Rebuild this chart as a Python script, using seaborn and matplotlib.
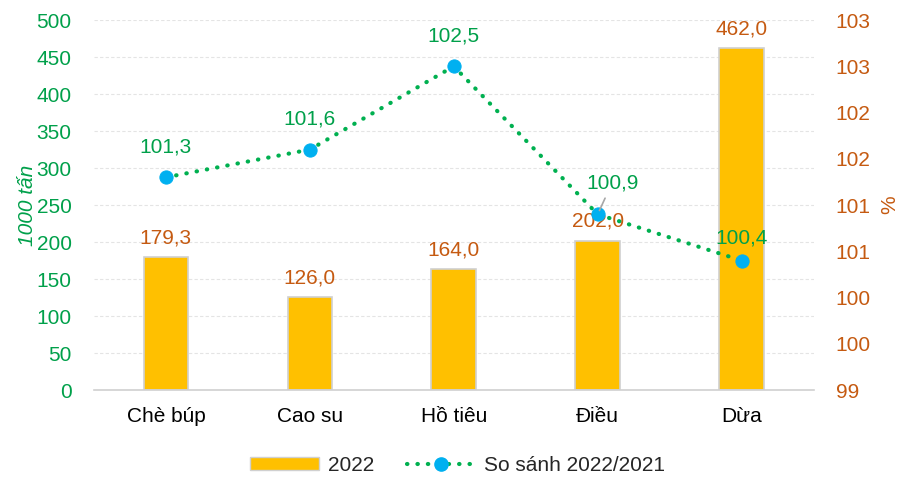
import matplotlib
matplotlib.use("Agg")
import matplotlib.pyplot as plt
import matplotlib.ticker as mticker
from matplotlib.patches import Patch
from matplotlib.lines import Line2D
import seaborn as sns
import pandas as pd

# data
categories = ["Chè búp", "Cao su", "Hồ tiêu", "Điều", "Dừa"]
output_2022 = [179.3, 126.0, 164.0, 202.0, 462.0]
ratio_2022_2021 = [101.3, 101.6, 102.5, 100.9, 100.4]

GREEN_TXT = "#00A04A"
ORANGE_TXT = "#C55A11"
BAR_COLOR = "#FFC000"
LINE_COLOR = "#00B050"
DOT_COLOR = "#00B0F0"
FS = 15

sns.set_style("white")
plt.rcParams["font.family"] = ["Liberation Sans", "DejaVu Sans"]

df = pd.DataFrame({"cat": categories, "val": output_2022, "pct": ratio_2022_2021})

fig = plt.figure(figsize=(9.03, 4.78), dpi=100)
ax = fig.add_axes([0.104, 0.184, 0.797, 0.774])

sns.barplot(data=df, x="cat", y="val", ax=ax, color=BAR_COLOR, width=0.31,
            edgecolor="#D0D0D0", linewidth=1.2, saturation=1, zorder=2)
ax.set_ylim(0, 500)
ax.set_xlim(-0.5, len(categories) - 0.5)
ax.yaxis.set_major_locator(mticker.MultipleLocator(50))
ax.grid(axis="y", color="#E4E4E4", linestyle=(0, (3, 2)), linewidth=0.8, zorder=0)
ax.set_xlabel("")
ax.set_ylabel("1000 tấn", color=GREEN_TXT, fontsize=FS, style="italic", labelpad=0)
ax.tick_params(axis="y", colors=GREEN_TXT, labelsize=FS, length=0, pad=16)
ax.tick_params(axis="x", labelsize=FS, length=0, pad=12, colors="#000000")
for s in ["top", "right", "left"]:
    ax.spines[s].set_visible(False)
ax.spines["bottom"].set_color("#D0D0D0")
ax.spines["bottom"].set_linewidth(1.2)

for i, v in enumerate(output_2022):
    ax.text(i, v + 13, f"{v:.1f}".replace(".", ","), ha="center", va="bottom",
            color=ORANGE_TXT, fontsize=FS, zorder=3)

ax2 = ax.twinx()
sns.lineplot(x=list(range(len(categories))), y=ratio_2022_2021, ax=ax2,
             color=LINE_COLOR, linestyle=(0, (0.1, 2.4)), linewidth=3.0,
             dash_capstyle="round", marker="o", markersize=9.5,
             markerfacecolor=DOT_COLOR, markeredgecolor=DOT_COLOR, zorder=4,
             legend=False)
ax2.set_ylim(99, 103)
ax2.yaxis.set_major_locator(mticker.MultipleLocator(0.5))
ax2.yaxis.set_major_formatter(mticker.FuncFormatter(lambda x, p: f"{int(x + 0.5)}"))
ax2.tick_params(axis="y", colors=ORANGE_TXT, labelsize=FS, length=0, pad=16)
ax2.set_ylabel("%", color=ORANGE_TXT, fontsize=FS, labelpad=7)
ax2.grid(False)
for s in ax2.spines.values():
    s.set_visible(False)

# point labels
for i, v in enumerate(ratio_2022_2021):
    txt = f"{v:.1f}".replace(".", ",")
    if i == 3:
        ax2.annotate(txt, xy=(i, v), xytext=(i + 0.1, v + 0.34), ha="center",
                     va="center", color=GREEN_TXT, fontsize=FS,
                     arrowprops=dict(arrowstyle="-", color="#A6A6A6", lw=1.2,
                                     shrinkA=2, shrinkB=3), zorder=5)
    else:
        dy = 0.24 if i == 4 else 0.33
        ax2.text(i, v + dy, txt, ha="center", va="center", color=GREEN_TXT,
                 fontsize=FS, zorder=5)

# legend
handles = [
    Patch(facecolor=BAR_COLOR, edgecolor="#D0D0D0", linewidth=1.0),
    Line2D([0], [0], color=LINE_COLOR, linestyle=(0, (0.1, 2.4)), linewidth=3.0,
           dash_capstyle="round", marker="o", markersize=9.5,
           markerfacecolor=DOT_COLOR, markeredgecolor=DOT_COLOR),
]
fig.legend(handles, ["2022", "So sánh 2022/2021"], loc="center",
           bbox_to_anchor=(0.507, 0.026), ncol=2, frameon=False, fontsize=FS,
           handlelength=3.3, handleheight=0.55, columnspacing=1.6,
           handletextpad=0.4)

fig.savefig("out.png", dpi=100)
